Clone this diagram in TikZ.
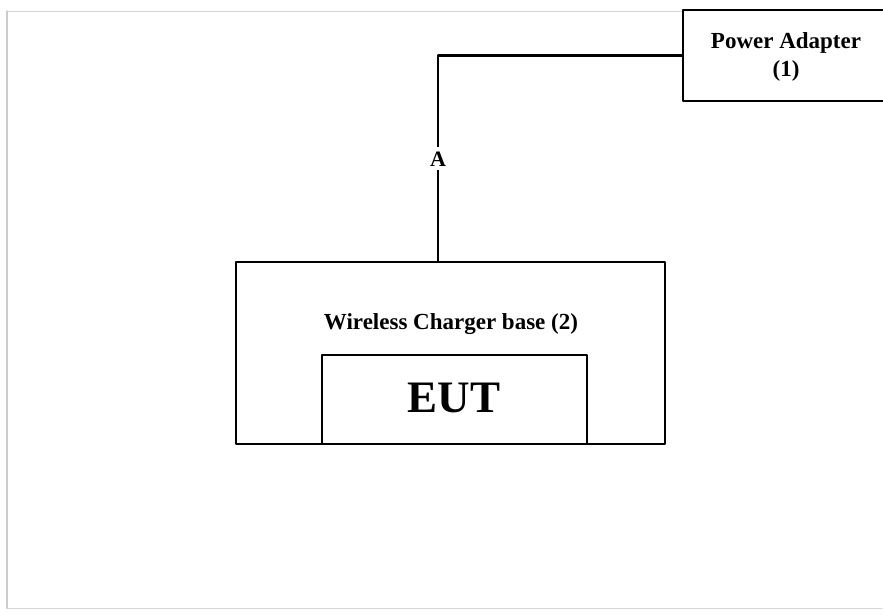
\documentclass[tikz,border=0pt]{standalone}
\usepackage{fontspec}
\setmainfont{Liberation Serif}
\usetikzlibrary{positioning}

\begin{document}
\begin{tikzpicture}[line cap=round,line join=round,x=1pt,y=-1pt,
		box/.style={draw,line width=2.4pt,rectangle,inner sep=0pt},
		txt/.style={font=\bfseries\fontsize{23}{28}\selectfont,align=center,inner sep=0pt}]
				\useasboundingbox (0,0) rectangle (883,613);
				\clip (0,0) rectangle (883,613);
				% page frame
				\draw [line width=0.8pt,color=gray!40,dash pattern=on 1pt off 1pt] (7,11)-- (683,11);
				\draw [line width=1.2pt,color=gray!40] (7,11)-- (7,608);
				\draw [line width=0.8pt,color=gray!40,dash pattern=on 1pt off 1pt] (7,608)-- (883,608);
				% boxes
				\node [box,minimum width=204pt,minimum height=91pt] (adapter) at (785,55.5) {};
				\node [txt] (adaptertext) at (786,57) {Power Adapter\\(1)};
				\node [box,minimum width=429pt,minimum height=182pt] (base) at (450.5,353) {};
				\node [txt] (basetext) at (451,324) {Wireless Charger base (2)};
				\node [box,minimum width=265pt,minimum height=89pt] (eut) at (454.5,399.5) {};
				\node [font=\bfseries\fontsize{45}{50}\selectfont,inner sep=0pt] (euttext) at (454,398) {EUT};
				% cable A
				\coordinate (tap) at (438,262);
				\draw [line width=2.2pt] (tap) |- (adapter.west)
					node[pos=0.25,fill=white,inner sep=4pt,font=\bfseries\fontsize{22}{24}\selectfont] (cableA) {A};
			\end{tikzpicture}
\end{document}
